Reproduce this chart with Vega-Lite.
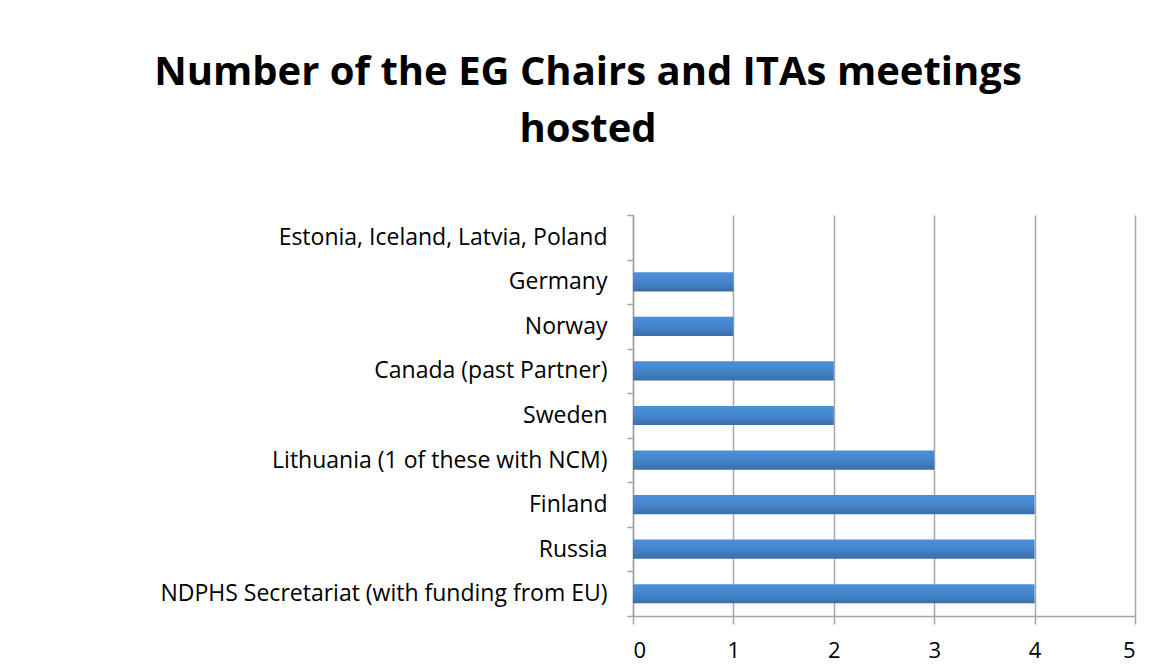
{
  "$schema": "https://vega.github.io/schema/vega-lite/v6.json",
  "autosize": "none",
  "width": 502,
  "height": 401,
  "padding": {"left": 633, "top": 215, "right": 14, "bottom": 56},
  "background": "white",
  "title": {
    "text": ["Number of the EG Chairs and ITAs meetings", "hosted"],
    "font": "Open Sans",
    "fontSize": 40,
    "fontWeight": "bold",
    "color": "#000000",
    "anchor": "middle",
    "dx": -296,
    "offset": 54,
    "lineHeight": 57
  },
  "data": {
    "values": [
      {"country": "Estonia, Iceland, Latvia, Poland\u00a0", "meetings": 0},
      {"country": "Germany", "meetings": 1},
      {"country": "Norway", "meetings": 1},
      {"country": "Canada (past Partner)", "meetings": 2},
      {"country": "Sweden\u00a0", "meetings": 2},
      {"country": "Lithuania (1 of these with NCM)", "meetings": 3},
      {"country": "Finland", "meetings": 4},
      {"country": "Russia", "meetings": 4},
      {"country": "NDPHS Secretariat (with funding from EU)", "meetings": 4}
    ]
  },
  "mark": {
    "type": "bar",
    "height": {"band": 0.43},
    "color": {
      "gradient": "linear",
      "x1": 0, "y1": 0, "x2": 0, "y2": 1,
      "stops": [
        {"offset": 0, "color": "#4a90d9"},
        {"offset": 0.5, "color": "#4585cc"},
        {"offset": 1, "color": "#3a6ea8"}
      ]
    }
  },
  "encoding": {
    "y": {
      "field": "country",
      "type": "nominal",
      "sort": null,
      "title": null,
      "scale": {"paddingInner": 0, "paddingOuter": 0},
      "axis": {
        "tickBand": "extent",
        "domainColor": "#a6a6a6",
        "domainWidth": 1.5,
        "tickColor": "#a6a6a6",
        "tickWidth": 1.5,
        "tickSize": 6,
        "labelFont": "Open Sans",
        "labelFontSize": 23,
        "labelColor": "#000000",
        "labelPadding": 20,
        "labelLimit": 600,
        "grid": false
      }
    },
    "x": {
      "field": "meetings",
      "type": "quantitative",
      "title": null,
      "scale": {"domain": [0, 5], "nice": false},
      "axis": {
        "values": [0, 1, 2, 3, 4, 5],
        "format": "d",
        "grid": true,
        "gridColor": "#a6a6a6",
        "gridWidth": 1.5,
        "domainColor": "#a6a6a6",
        "domainWidth": 1.5,
        "tickColor": "#a6a6a6",
        "tickWidth": 1.5,
        "tickSize": 8,
        "labelFont": "Open Sans",
        "labelFontSize": 22,
        "labelColor": "#000000",
        "labelPadding": 16
      }
    }
  },
  "config": {
    "view": {"stroke": null}
  }
}
